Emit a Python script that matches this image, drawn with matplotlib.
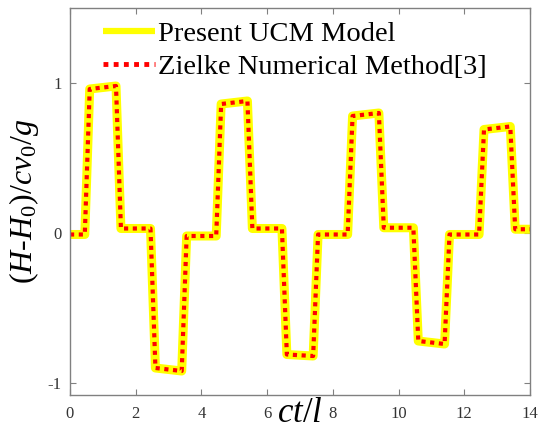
import matplotlib
matplotlib.use("Agg")
import matplotlib.pyplot as plt

plt.rcParams['font.family'] = ['Liberation Serif', 'DejaVu Serif']
plt.rcParams['mathtext.fontset'] = 'custom'
plt.rcParams['mathtext.rm'] = 'Liberation Serif'
plt.rcParams['mathtext.it'] = 'Liberation Serif:italic'
plt.rcParams['axes.unicode_minus'] = False

# Data
t = [0, 0.45, 0.6, 1.4, 1.55, 2.45, 2.6, 3.4, 3.55, 4.45, 4.6, 5.4, 5.55,
     6.45, 6.6, 7.4, 7.55, 8.45, 8.6, 9.4, 9.55, 10.45, 10.6, 11.4, 11.55,
     12.45, 12.6, 13.4, 13.55, 14]
h_ucm = [-0.01, -0.01, 0.96, 0.98, 0.03, 0.03, -0.90, -0.92, -0.02, -0.02,
         0.86, 0.88, 0.03, 0.03, -0.81, -0.82, -0.01, -0.01, 0.78, 0.80,
         0.035, 0.035, -0.72, -0.74, -0.01, -0.01, 0.69, 0.71, 0.025, 0.025]
h_zielke = list(h_ucm)
xticks = [0, 2, 4, 6, 8, 10, 12, 14]
yticks = [-1, 0, 1]

fig = plt.figure(figsize=(5.41, 4.38), dpi=100)
ax = fig.add_axes([70/541, 43/438, 460/541, 387/438])

ax.plot(t, h_ucm, color='#ffff00', lw=6.5, solid_joinstyle='round',
        solid_capstyle='round', label='Present UCM Model')
ax.plot(t, h_zielke, color='#ff0000', lw=3, dashes=(1, 1.1),
        label='Zielke Numerical Method[3]')

ax.set_xlim(0, 14)
ax.set_ylim(-1.08, 1.5)
ax.set_xticks(xticks)
ax.set_yticks(yticks)
ax.tick_params(direction='in', length=4, width=0.8, colors='#808080',
               labelcolor='#333333', labelsize=12, top=True, right=True)
ax.tick_params(axis='x', pad=8)
ax.tick_params(axis='y', pad=6)
for s in ax.spines.values():
    s.set_color('#808080')
    s.set_linewidth(1)

ax.set_xlabel('$ct/l$', fontsize=25, labelpad=-18)
ax.set_ylabel('$(H$-$H_0)/cv_0/g$', fontsize=23, labelpad=5)

leg = ax.legend(loc='upper left', frameon=False, fontsize=20.5, handlelength=1.83,
                handletextpad=0.1, borderaxespad=0.0, labelspacing=0.25,
                bbox_to_anchor=(0.046, 0.995))
lines = leg.get_lines()
lines[0].set_linewidth(4.5)
lines[0].set_solid_capstyle('butt')
lines[1].set_linewidth(3.5)

fig.savefig('out.png', dpi=100)
